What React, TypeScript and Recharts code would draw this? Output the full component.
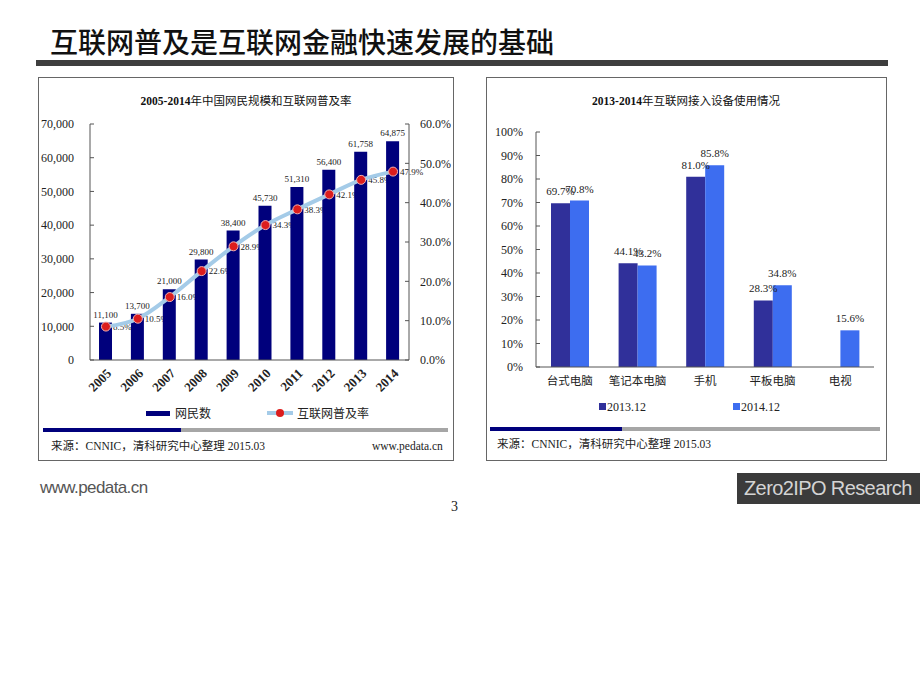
import {
  Bar,
  BarChart,
  ComposedChart,
  LabelList,
  Line,
  XAxis,
  YAxis,
} from 'recharts'

const years = ['2005', '2006', '2007', '2008', '2009', '2010', '2011', '2012', '2013', '2014']
const netizens = [11100, 13700, 21000, 29800, 38400, 45730, 51310, 56400, 61758, 64875]
const penetration = [8.5, 10.5, 16.0, 22.6, 28.9, 34.3, 38.3, 42.1, 45.8, 47.9]
const netizenTicks = [0, 10000, 20000, 30000, 40000, 50000, 60000, 70000]
const rateTicks = [0, 10, 20, 30, 40, 50, 60]

const devices = ['台式电脑', '笔记本电脑', '手机', '平板电脑', '电视']
const usage2013 = [69.7, 44.1, 81.0, 28.3, null]
const usage2014 = [70.8, 43.2, 85.8, 34.8, 15.6]
const usageTicks = [0, 10, 20, 30, 40, 50, 60, 70, 80, 90, 100]

const SERIF = '"Liberation Serif", "Times New Roman", "Noto Sans CJK SC", serif'
const CJK = '"Noto Sans CJK SC", "Liberation Sans", sans-serif'
const NAVY = '#00007c'
const LINE_BLUE = '#a4cbe8'
const DOT_RED = '#dc1d1d'
const DARK_BLUE = '#30309a'
const LIGHT_BLUE = '#3d6df0'

const growthData = years.map((year, i) => ({
  year,
  netizens: netizens[i],
  rate: penetration[i],
}))

const deviceData = devices.map((device, i) => ({
  device,
  y2013: usage2013[i],
  y2014: usage2014[i],
}))

const formatThousands = (v: number) => v.toLocaleString('en-US')

function YearTick({ x, y, payload }: any) {
  return (
    <g transform={`translate(${x + 3},${y + 5})`}>
      <text
        textAnchor="end"
        transform="rotate(-45)"
        dy="0.35em"
        fontSize={13}
        fontWeight="bold"
        fontFamily={SERIF}
        fill="#222"
      >
        {payload.value}
      </text>
    </g>
  )
}

function ProgressBar({ left, top, width, dark }: { left: number; top: number; width: number; dark: number }) {
  return (
    <div style={{ position: 'absolute', left, top, width, height: 4, background: '#a6a6a6' }}>
      <div style={{ width: dark, height: 4, background: NAVY }} />
    </div>
  )
}

const textBase = { position: 'absolute' as const, whiteSpace: 'nowrap' as const, lineHeight: 1 }

export default function App() {
  return (
    <div
      style={{
        position: 'absolute',
        left: 0,
        top: 0,
        width: 920,
        height: 690,
        background: '#fff',
        overflow: 'hidden',
      }}
    >
      <div style={{ ...textBase, left: 50, top: 27, fontSize: 28, fontFamily: CJK, fontWeight: 500, color: '#111' }}>
        互联网普及是互联网金融快速发展的基础
      </div>
      <div style={{ position: 'absolute', left: 36, top: 60, width: 852, height: 6, background: '#3e3e3e' }} />

      {/* left panel */}
      <div
        style={{
          position: 'absolute',
          left: 38,
          top: 77,
          width: 416,
          height: 384,
          border: '1px solid #666',
          boxSizing: 'border-box',
        }}
      />
      <div style={{ position: 'absolute', left: 38, top: 77 }}>
        <ComposedChart
          width={416}
          height={384}
          data={growthData}
          margin={{ top: 47, right: 0, bottom: 61, left: 0 }}
          barCategoryGap={0}
        >
          <XAxis
            dataKey="year"
            axisLine={{ stroke: '#555' }}
            tickLine={false}
            tickSize={0}
            tickMargin={6}
            height={40}
            interval={0}
            tick={<YearTick />}
          />
          <YAxis
            yAxisId="left"
            width={52}
            domain={[0, 70000]}
            ticks={netizenTicks}
            tickFormatter={formatThousands}
            axisLine={{ stroke: '#555' }}
            tickLine={{ stroke: '#555' }}
            tickSize={-4}
            tickMargin={20}
            tick={{ fontSize: 12, fontFamily: SERIF, fill: '#222' }}
          />
          <YAxis
            yAxisId="right"
            orientation="right"
            width={45}
            domain={[0, 60]}
            ticks={rateTicks}
            tickFormatter={(v: number) => `${v.toFixed(1)}%`}
            axisLine={{ stroke: '#555' }}
            tickLine={{ stroke: '#555' }}
            tickSize={-4}
            tickMargin={15}
            tick={{ fontSize: 12, fontFamily: SERIF, fill: '#222' }}
          />
          {/* rate labels sit behind the bars, as in the source slide */}
          <Line
            yAxisId="right"
            dataKey="rate"
            stroke="none"
            dot={false}
            activeDot={false}
            legendType="none"
            isAnimationActive={false}
            zIndex={100}
          >
            <LabelList
              dataKey="rate"
              position="right"
              offset={7}
              zIndex={100}
              formatter={(v: any) => `${Number(v).toFixed(1)}%`}
              style={{ fontSize: 9, fontFamily: SERIF, fill: '#222' }}
            />
          </Line>
          <Bar yAxisId="left" dataKey="netizens" fill={NAVY} barSize={13} isAnimationActive={false}>
            <LabelList
              dataKey="netizens"
              position="top"
              offset={5}
              formatter={(v: any) => formatThousands(Number(v))}
              style={{ fontSize: 9, fontFamily: SERIF, fill: '#222' }}
            />
          </Bar>
          <Line
            yAxisId="right"
            type="monotone"
            dataKey="rate"
            stroke={LINE_BLUE}
            strokeWidth={4}
            dot={{ r: 4.5, fill: DOT_RED, stroke: '#f3b0b0', strokeWidth: 1 }}
            activeDot={false}
            isAnimationActive={false}
          />
        </ComposedChart>
      </div>
      <div style={{ ...textBase, left: 38, width: 416, top: 96, textAlign: 'center', fontSize: 11.5, fontFamily: SERIF, color: '#111' }}>
        <b>2005-2014</b>年中国网民规模和互联网普及率
      </div>
      <div style={{ position: 'absolute', left: 146, top: 411, width: 24, height: 5, background: NAVY }} />
      <div style={{ ...textBase, left: 175, top: 407, fontSize: 12, fontFamily: CJK, color: '#222' }}>网民数</div>
      <div style={{ position: 'absolute', left: 267, top: 411, width: 26, height: 4, background: LINE_BLUE }} />
      <div style={{ position: 'absolute', left: 276, top: 409, width: 8, height: 8, borderRadius: 4, background: DOT_RED }} />
      <div style={{ ...textBase, left: 297, top: 407, fontSize: 12, fontFamily: CJK, color: '#222' }}>互联网普及率</div>
      <ProgressBar left={43} top={428} width={405} dark={138} />
      <div style={{ ...textBase, left: 51, top: 441, fontSize: 11.5, fontFamily: SERIF, color: '#222' }}>
        来源：CNNIC，清科研究中心整理 2015.03
      </div>
      <div style={{ ...textBase, left: 372, top: 441, fontSize: 11.5, fontFamily: SERIF, color: '#222' }}>
        www.pedata.cn
      </div>

      {/* right panel */}
      <div
        style={{
          position: 'absolute',
          left: 486,
          top: 77,
          width: 401,
          height: 384,
          border: '1px solid #666',
          boxSizing: 'border-box',
        }}
      />
      <div style={{ position: 'absolute', left: 486, top: 77 }}>
        <BarChart
          width={400}
          height={383}
          data={deviceData}
          margin={{ top: 55, right: 12, bottom: 63, left: 0 }}
          barGap={0}
        >
          <XAxis
            dataKey="device"
            axisLine={{ stroke: '#555' }}
            tickLine={false}
            tickSize={0}
            tickMargin={10}
            height={30}
            interval={0}
            tick={{ fontSize: 11.5, fontFamily: CJK, fill: '#222' }}
          />
          <YAxis
            width={50}
            domain={[0, 100]}
            ticks={usageTicks}
            tickFormatter={(v: number) => `${v}%`}
            axisLine={{ stroke: '#555' }}
            tickLine={{ stroke: '#555' }}
            tickSize={-4}
            tickMargin={17}
            tick={{ fontSize: 12, fontFamily: SERIF, fill: '#222' }}
          />
          <Bar dataKey="y2013" fill={DARK_BLUE} barSize={19} isAnimationActive={false}>
            <LabelList
              dataKey="y2013"
              position="top"
              offset={8}
              formatter={(v: any) => (v == null ? '' : `${Number(v).toFixed(1)}%`)}
              style={{ fontSize: 11, fontFamily: SERIF, fill: '#222' }}
            />
          </Bar>
          <Bar dataKey="y2014" fill={LIGHT_BLUE} barSize={19} isAnimationActive={false}>
            <LabelList
              dataKey="y2014"
              position="top"
              offset={8}
              formatter={(v: any) => `${Number(v).toFixed(1)}%`}
              style={{ fontSize: 11, fontFamily: SERIF, fill: '#222' }}
            />
          </Bar>
        </BarChart>
      </div>
      <div style={{ ...textBase, left: 486, width: 400, top: 96, textAlign: 'center', fontSize: 11.5, fontFamily: SERIF, color: '#111' }}>
        <b>2013-2014</b>年互联网接入设备使用情况
      </div>
      <div style={{ position: 'absolute', left: 599, top: 403, width: 7, height: 7, background: DARK_BLUE }} />
      <div style={{ ...textBase, left: 607, top: 401, fontSize: 12, fontFamily: SERIF, color: '#222' }}>2013.12</div>
      <div style={{ position: 'absolute', left: 733, top: 403, width: 7, height: 7, background: LIGHT_BLUE }} />
      <div style={{ ...textBase, left: 741, top: 401, fontSize: 12, fontFamily: SERIF, color: '#222' }}>2014.12</div>
      <ProgressBar left={490} top={427} width={390} dark={132} />
      <div style={{ ...textBase, left: 497, top: 439, fontSize: 11.5, fontFamily: SERIF, color: '#222' }}>
        来源：CNNIC，清科研究中心整理 2015.03
      </div>

      {/* footer */}
      <div style={{ ...textBase, left: 40, top: 479, fontSize: 17, fontFamily: '"Liberation Sans", Arial, sans-serif', color: '#555', letterSpacing: -0.6 }}>
        www.pedata.cn
      </div>
      <div style={{ ...textBase, left: 451, top: 500, fontSize: 14, fontFamily: SERIF, color: '#222' }}>3</div>
      <div
        style={{
          position: 'absolute',
          left: 737,
          top: 473,
          width: 183,
          height: 31,
          background: '#3b3b3b',
          color: '#d4d4d4',
          fontSize: 20,
          fontFamily: '"Liberation Sans", Arial, sans-serif',
          letterSpacing: -0.6,
          lineHeight: '31px',
          paddingLeft: 7,
          boxSizing: 'border-box',
          whiteSpace: 'nowrap',
        }}
      >
        Zero2IPO Research
      </div>
    </div>
  )
}
